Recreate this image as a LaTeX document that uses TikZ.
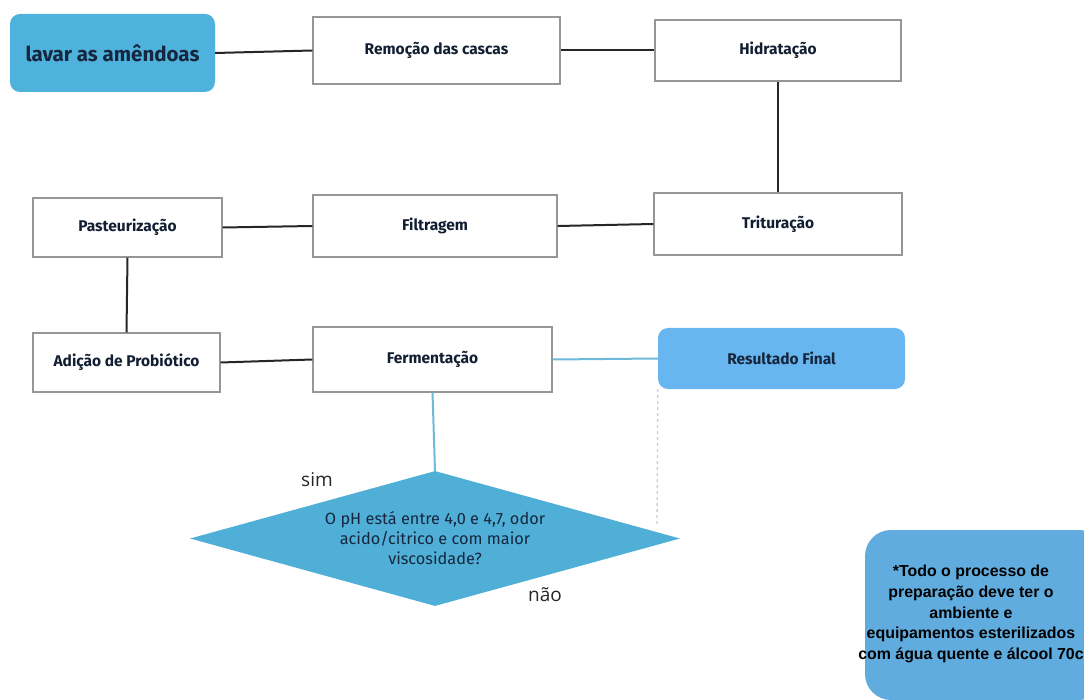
\documentclass[tikz,border=0pt]{standalone}
\usepackage{fontspec}
\setmainfont{Fira Sans}
\newfontfamily\notefont{Liberation Sans}
\newfontfamily\labfont{Open Sans}
\usetikzlibrary{shapes.geometric}
\definecolor{boxline}{RGB}{150,150,150}
\definecolor{navy}{RGB}{22,38,62}
\definecolor{blueA}{RGB}{78,178,220}
\definecolor{blueB}{RGB}{104,182,240}
\definecolor{blueD}{RGB}{80,175,215}
\definecolor{blueN}{RGB}{96,172,222}
\definecolor{blueL}{RGB}{110,185,215}
\definecolor{dashc}{RGB}{190,210,225}
\tikzset{
  stepbox/.style={draw=boxline, line width=1.3pt, fill=white, inner sep=0pt, font=\fontsize{15.5}{18}\selectfont\bfseries, text=navy!80!black},
  bluebox/.style={rounded corners=10pt, inner sep=0pt, font=\fontsize{15.5}{18}\selectfont\bfseries, text=navy},
  conn/.style={draw=black!85, line width=2pt},
  lconn/.style={draw=blueL, line width=2pt},
  lab/.style={font=\labfont\fontsize{19}{22}\selectfont, text=black!85},
}
\begin{document}
\begin{tikzpicture}[x=1pt,y=-1pt]
\useasboundingbox (0,0) rectangle (1084,700);
% nodes
\node[bluebox, fill=blueA, minimum width=205pt, minimum height=78pt, font=\fontsize{20.5}{24}\selectfont\bfseries] (lav) at (112.5,53) {lavar as amêndoas};
\node[stepbox, minimum width=247pt, minimum height=67pt] (rem) at (436.5,50.5) {Remoção das cascas};
\node[stepbox, minimum width=246pt, minimum height=61pt] (hid) at (778,50.5) {Hidratação};
\node[stepbox, minimum width=248pt, minimum height=62pt] (tri) at (778,224) {Trituração};
\node[stepbox, minimum width=244pt, minimum height=62pt] (fil) at (435,226) {Filtragem};
\node[stepbox, minimum width=189pt, minimum height=59pt] (pas) at (127.5,227.5) {Pasteurização};
\node[stepbox, minimum width=187pt, minimum height=59pt] (adi) at (126.5,362.5) {Adição de Probiótico};
\node[stepbox, minimum width=239pt, minimum height=65pt] (fer) at (432.5,359.5) {Fermentação};
\node[bluebox, fill=blueB, minimum width=247pt, minimum height=61pt] (res) at (781.5,358.5) {Resultado Final};
\node[diamond, aspect=3.63, fill=blueD, minimum width=490pt, minimum height=135pt, inner sep=0pt, align=center, text=navy, font=\fontsize{16.3}{20}\selectfont] (dec) at (435,538.5) {O pH está entre 4,0 e 4,7, odor\\acido/citrico e com maior\\viscosidade?};
\node[fill=blueN, rounded corners=26pt, minimum width=240pt, minimum height=170pt, inner sep=0pt] (notebox) at (985,615) {};
\node[align=center, text=black, font=\notefont\bfseries\fontsize{15.9}{20.6}\selectfont] (notetxt) at (971,614) {*Todo o processo de\\preparação deve ter o\\ambiente e\\equipamentos esterilizados\\com água quente e álcool 70c};
\node[lab] (sim) at (317,480) {sim};
\node[lab] (nao) at (545,595) {não};
% connectors
\draw[conn] (lav.east) -- (rem.west);
\draw[conn] (rem.east) -- (hid.west);
\draw[conn] (hid.south) -- (tri.north);
\draw[conn] (tri.west) -- (fil.east);
\draw[conn] (fil.west) -- (pas.east);
\draw[conn] (pas.south) -- (adi.north);
\draw[conn] (adi.east) -- (fer.west);
\draw[lconn] (fer.east) -- (res.west);
\draw[lconn] (fer.south) -- (dec.north);
\coordinate (dashend) at (657,527);
\draw[draw=dashc, line width=1.3pt, dashed] (res.south west) -- (dashend);
\end{tikzpicture}
\end{document}
